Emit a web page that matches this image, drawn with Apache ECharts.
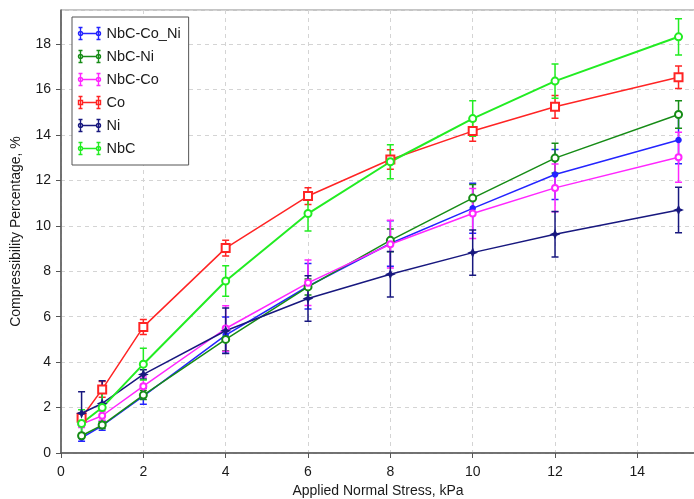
<!DOCTYPE html>
<html>
<head>
<meta charset="utf-8">
<script src="https://cdn.jsdelivr.net/npm/echarts@6/dist/echarts.min.js"></script>
<style>
  html, body { margin: 0; padding: 0; background: #fff; }
  #chart { width: 694px; height: 499px; }
</style>
</head>
<body>
<div id="chart"></div>
<script>
// Applied normal stress (kPa)
const stress = [0.5, 1, 2, 4, 6, 8, 10, 12, 15];

// Mean compressibility (%) per mix
const nbcCoNi = [0.67, 1.2, 2.5, 5.19, 7.34, 9.22, 10.77, 12.26, 13.78];
const nbcNi   = [0.76, 1.23, 2.55, 5.0, 7.31, 9.36, 11.22, 12.98, 14.9];
const nbcCo   = [1.27, 1.64, 2.94, 5.48, 7.49, 9.19, 10.54, 11.67, 13.02];
const co      = [1.55, 2.8, 5.55, 9.02, 11.31, 12.92, 14.17, 15.24, 16.54];
const ni      = [1.75, 2.18, 3.46, 5.38, 6.8, 7.87, 8.82, 9.63, 10.7];
const nbc     = [1.3, 2.0, 3.91, 7.57, 10.54, 12.82, 14.72, 16.37, 18.32];

// Error bar half-widths (%)
const nbcCoNiErr = [0.15, 0.2, 0.35, 0.8, 1.0, 1.0, 1.1, 1.1, 1.05];
const nbcNiErr   = [0.1, 0.15, 0.2, 0.5, 0.35, 0.5, 0.6, 0.65, 0.6];
const nbcCoErr   = [0.15, 0.2, 0.4, 1.0, 1.0, 1.05, 1.1, 1.05, 1.1];
const coErr      = [0.2, 0.35, 0.33, 0.35, 0.37, 0.43, 0.45, 0.5, 0.5];
const niErr      = [0.95, 1.0, 0.2, 1.0, 1.0, 1.0, 1.0, 1.0, 1.0];
const nbcErr     = [0.6, 0.65, 0.7, 0.67, 0.77, 0.75, 0.78, 0.75, 0.8];

const names = ['NbC-Co_Ni', 'NbC-Ni', 'NbC-Co', 'Co', 'Ni', 'NbC'];
const xTicks = ['0', '2', '4', '6', '8', '10', '12', '14'];

const FONT = 'Liberation Sans, Arial, sans-serif';

const styles = [
  { color: '#2424ff', symbol: 'circle', size: 5, width: 1.5, mark: 'circle' },
  { color: '#168c16', symbol: 'emptyCircle', size: 7, width: 1.5, mark: 'circle' },
  { color: '#ff26ff', symbol: 'emptyCircle', size: 6, width: 1.5, mark: 'circle' },
  { color: '#ff2424', symbol: 'emptyRect', size: 8, width: 1.5, mark: 'rect' },
  { color: '#18187f', symbol: 'path://M0,-10L3,-3L10,0L3,3L0,10L-3,3L-10,0L-3,-3Z', size: 7, width: 1.5, mark: 'circle' },
  { color: '#22ec22', symbol: 'emptyCircle', size: 7, width: 2, mark: 'circle' }
];

const means = [nbcCoNi, nbcNi, nbcCo, co, ni, nbc];
const errs = [nbcCoNiErr, nbcNiErr, nbcCoErr, coErr, niErr, nbcErr];

// Legend glyph: two capped error bars joined by a line, with markers
const barPath = 'M2,1V13M0,1H4M0,13H4M20,1V13M18,1H22M18,13H22M4,7H18';
const circleMarks = 'M4,7A2,2 0 1 1 0,7A2,2 0 1 1 4,7M22,7A2,2 0 1 1 18,7A2,2 0 1 1 22,7';
const rectMarks = 'M0,5H4V9H0ZM18,5H22V9H18Z';

function errorBarItem(params, api) {
  const x = api.value(0);
  const top = api.coord([x, api.value(2)]);
  const bot = api.coord([x, api.value(1)]);
  const hw = 3.5;
  const d = 'M' + (top[0] - hw) + ',' + top[1] + 'L' + (top[0] + hw) + ',' + top[1] +
            'M' + top[0] + ',' + top[1] + 'L' + bot[0] + ',' + bot[1] +
            'M' + (bot[0] - hw) + ',' + bot[1] + 'L' + (bot[0] + hw) + ',' + bot[1];
  return {
    type: 'path',
    shape: { pathData: d },
    style: { stroke: api.visual('color'), lineWidth: 1.5, fill: 'none' }
  };
}

const series = [];
// error bars first so the legend picks up their glyph
names.forEach(function (name, i) {
  series.push({
    name: name,
    type: 'custom',
    renderItem: errorBarItem,
    itemStyle: { color: styles[i].color },
    encode: { x: 0, y: [1, 2] },
    data: stress.map(function (s, k) { return [s, means[i][k] - errs[i][k], means[i][k] + errs[i][k]]; }),
    z: 2
  });
});
names.forEach(function (name, i) {
  const st = styles[i];
  series.push({
    name: name,
    type: 'line',
    data: stress.map(function (s, k) { return [s, means[i][k]]; }),
    symbol: st.symbol,
    symbolSize: st.size,
    showAllSymbol: true,
    lineStyle: { color: st.color, width: st.width },
    itemStyle: { color: st.color, borderColor: st.color, borderWidth: 1.5 },
    emphasis: { disabled: true },
    z: 3
  });
});

const chart = echarts.init(document.getElementById('chart'), null, { renderer: 'canvas' });
chart.setOption({
  animation: false,
  backgroundColor: '#fff',
  textStyle: { fontFamily: FONT },
  grid: {
    left: 61, top: 10, width: 634, bottom: 46,
    outerBoundsMode: 'none',
    containLabel: false,
    show: true, borderColor: '#8a8a8a', borderWidth: 1, backgroundColor: '#fff'
  },
  legend: {
    orient: 'vertical',
    left: 72, top: 17,
    padding: [8, 8, 8, 4],
    itemWidth: 22, itemHeight: 13, itemGap: 6,
    backgroundColor: '#fff',
    borderColor: '#555', borderWidth: 1,
    textStyle: { fontFamily: FONT, fontSize: 14.5, color: '#1a1a1a', padding: [0, 0, 0, 1] },
    data: names.map(function (name, i) {
      return {
        name: name,
        icon: 'path://' + barPath + (styles[i].mark === 'rect' ? rectMarks : circleMarks),
        itemStyle: { color: 'none', borderColor: styles[i].color, borderWidth: 1.4 }
      };
    })
  },
  xAxis: {
    type: 'value',
    min: 0, max: 15.4, interval: 2,
    name: 'Applied Normal Stress, kPa',
    nameLocation: 'middle', nameGap: 31,
    nameTextStyle: { fontFamily: FONT, fontSize: 14, color: '#1a1a1a' },
    axisLine: { show: true, onZero: false, lineStyle: { color: '#555', width: 1.5 } },
    axisTick: { show: true, inside: false, length: 5, lineStyle: { color: '#555' } },
    axisLabel: {
      fontFamily: FONT, fontSize: 14, color: '#1a1a1a', margin: 12, showMaxLabel: false,
      formatter: function (v) { const t = String(v); return xTicks.indexOf(t) >= 0 ? t : ''; }
    },
    splitLine: { show: true, lineStyle: { color: '#d4d4d4', type: [4, 4], width: 1 } }
  },
  yAxis: {
    type: 'value',
    min: 0, max: 19.5, interval: 2,
    name: 'Compressibility Percentage, %',
    nameLocation: 'middle', nameGap: 38,
    nameTextStyle: { fontFamily: FONT, fontSize: 14, color: '#1a1a1a' },
    axisLine: { show: true, lineStyle: { color: '#555', width: 1.5 } },
    axisTick: { show: true, inside: false, length: 5, lineStyle: { color: '#555' } },
    axisLabel: { fontFamily: FONT, fontSize: 14, color: '#1a1a1a', margin: 10, showMaxLabel: false },
    splitLine: { show: true, lineStyle: { color: '#d4d4d4', type: [4, 4], width: 1 } }
  },
  series: series
});
</script>
</body>
</html>
